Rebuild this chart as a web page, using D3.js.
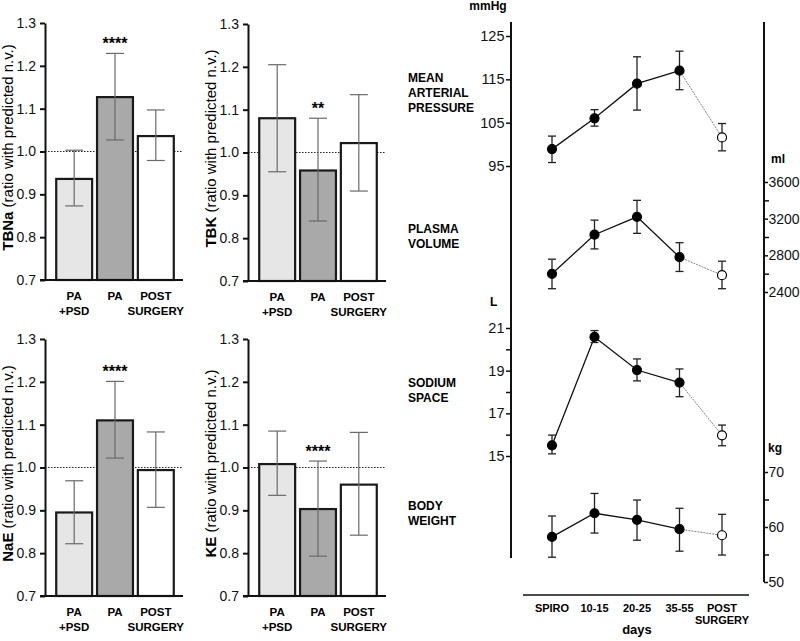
<!DOCTYPE html>
<html>
<head>
<meta charset="utf-8">
<script src="https://cdn.jsdelivr.net/npm/d3@7"></script>
<style>
	body { margin: 0; background: #fff; }
	svg { font-family: "Liberation Sans", Arial, sans-serif; }
	.axis path, .axis line { stroke: #111; }
	.axis text { fill: #111; }
</style>
</head>
<body>
<svg id="chart" width="800" height="641"></svg>
<script>
//Bar panels: ratio with predicted normal value.
const barCats = ['PA+PSD', 'PA', 'POST SURGERY'];
const barLabels = [['PA', '+PSD'], ['PA'], ['POST', 'SURGERY']];
const barTicks = [0.7, 0.8, 0.9, 1.0, 1.1, 1.2, 1.3];
const tbnaMean = [0.936, 1.127, 1.036];
const tbnaLow = [0.873, 1.027, 0.979];
const tbnaHigh = [1.003, 1.229, 1.097];
const tbkMean = [1.080, 0.958, 1.022];
const tbkLow = [0.955, 0.840, 0.910];
const tbkHigh = [1.205, 1.080, 1.135];
const naeMean = [0.895, 1.110, 0.994];
const naeLow = [0.822, 1.022, 0.907];
const naeHigh = [0.969, 1.201, 1.083];
const keMean = [1.008, 0.903, 0.960];
const keLow = [0.935, 0.793, 0.842];
const keHigh = [1.085, 1.015, 1.082];

//Time course panel.
const days = ['SPIRO', '10-15', '20-25', '35-55', 'POST SURGERY'];
const mapMean = [98.9, 106.0, 114.0, 117.0, 101.6];
const mapLow = [95.8, 104.2, 107.9, 112.6, 98.5];
const mapHigh = [101.9, 108.0, 120.2, 121.5, 104.8];
const pvMean = [2598, 3025, 3220, 2780, 2584];
const pvLow = [2436, 2870, 3040, 2624, 2436];
const pvHigh = [2758, 3184, 3400, 2938, 2736];
const naSpMean = [15.50, 20.58, 19.03, 18.44, 15.97];
const naSpLow = [15.10, 20.32, 18.52, 17.78, 15.48];
const naSpHigh = [15.98, 20.88, 19.55, 19.08, 16.45];
const bwMean = [58.2, 62.5, 61.3, 59.6, 58.5];
const bwLow = [54.5, 58.9, 57.6, 55.6, 54.9];
const bwHigh = [62.0, 66.1, 64.9, 63.4, 62.3];

const svg = d3.select('#chart');
const barFills = ['#e6e6e6', '#a9a9a9', '#ffffff'];

//One bar panel.
function renderBars(p) {
	const g = svg.append('g');
	const y = d3.scaleLinear().domain([0.7, 1.3]).range([p.bottom, p.top]);
	const x = d3.scaleBand().domain(barCats)
		.range([p.left + 10, p.left + 130])
		.paddingInner(0.12).paddingOuter(0.03);
	const right = p.left + 138;
	const rows = barCats.map((c, i) => ({c, m: p.mean[i], lo: p.low[i], hi: p.high[i], i}));

	//Reference line at 1.0.
	g.append('line')
		.attr('x1', p.left).attr('x2', right)
		.attr('y1', y(1)).attr('y2', y(1))
		.style('stroke', '#222').style('stroke-width', 1)
		.style('stroke-dasharray', '1.5,1.5');

	g.selectAll('rect.bar').data(rows).enter().append('rect')
		.attr('class', 'bar')
		.attr('x', d => x(d.c))
		.attr('width', x.bandwidth())
		.attr('y', d => y(d.m))
		.attr('height', d => y(0.7) - y(d.m))
		.style('fill', d => barFills[d.i])
		.style('stroke', '#1a1a1a').style('stroke-width', 2.2);

	//Error bars.
	const eb = g.selectAll('g.err').data(rows).enter().append('g')
		.attr('transform', d => `translate(${x(d.c) + x.bandwidth() / 2},0)`)
		.style('stroke', '#6a6a6a').style('stroke-width', 1.2);
	eb.append('line').attr('y1', d => y(d.lo)).attr('y2', d => y(d.hi));
	eb.append('line').attr('x1', -9).attr('x2', 9).attr('y1', d => y(d.lo)).attr('y2', d => y(d.lo));
	eb.append('line').attr('x1', -9).attr('x2', 9).attr('y1', d => y(d.hi)).attr('y2', d => y(d.hi));

	//Significance.
	g.append('text')
		.text(p.stars)
		.attr('x', x(barCats[1]) + x.bandwidth() / 2)
		.attr('y', y(p.high[1]) - 4)
		.attr('text-anchor', 'middle')
		.style('font-size', '16px').style('font-weight', 'bold');

	//Axes.
	g.append('g').attr('class', 'axis')
		.attr('transform', `translate(${p.left},0)`)
		.call(d3.axisLeft(y).tickValues(barTicks).tickFormat(d3.format('.1f')).tickSize(5).tickSizeOuter(0))
		.call(a => a.selectAll('path, line').style('stroke-width', 2))
		.call(a => a.selectAll('text').style('font-size', '14px').attr('dx', '-1px'));
	g.append('line')
		.attr('x1', p.left - 5).attr('x2', right)
		.attr('y1', p.bottom).attr('y2', p.bottom)
		.style('stroke', '#111').style('stroke-width', 2);

	//Category labels.
	const lab = g.selectAll('text.cat').data(barLabels).enter().append('text')
		.attr('class', 'cat')
		.attr('text-anchor', 'middle')
		.style('font-size', '11.5px').style('font-weight', 'bold');
	lab.selectAll('tspan').data((d, i) => d.map(t => ({t, i}))).enter().append('tspan')
		.attr('x', d => x(barCats[d.i]) + x.bandwidth() / 2)
		.attr('y', (d, j) => p.bottom + 20 + j * 15)
		.text(d => d.t);

	//Axis title.
	const t = g.append('text')
		.attr('transform', `translate(${p.left - 32},${(p.top + p.bottom) / 2 - 4}) rotate(-90)`)
		.attr('text-anchor', 'middle')
		.style('font-size', '15px');
	t.append('tspan').text(p.name).style('font-weight', 'bold');
	t.append('tspan').text(' (ratio with predicted n.v.)');
}

renderBars({left: 45, top: 23, bottom: 280, name: 'TBNa', stars: '****', mean: tbnaMean, low: tbnaLow, high: tbnaHigh});
renderBars({left: 248, top: 24, bottom: 281, name: 'TBK', stars: '**', mean: tbkMean, low: tbkLow, high: tbkHigh});
renderBars({left: 45, top: 339, bottom: 596, name: 'NaE', stars: '****', mean: naeMean, low: naeLow, high: naeHigh});
renderBars({left: 248, top: 339, bottom: 596, name: 'KE', stars: '****', mean: keMean, low: keLow, high: keHigh});

//Time course panel.
const xT = d3.scalePoint().domain(days).range([552, 722]);
const leftX = 511, rightX = 764;
const series = [
	{label: ['MEAN', 'ARTERIAL', 'PRESSURE'], labelY: 78, mean: mapMean, low: mapLow, high: mapHigh,
		y: d3.scaleLinear().domain([95, 125]).range([166, 36])},
	{label: ['PLASMA', 'VOLUME'], labelY: 229, mean: pvMean, low: pvLow, high: pvHigh,
		y: d3.scaleLinear().domain([2400, 3600]).range([292, 182])},
	{label: ['SODIUM', 'SPACE'], labelY: 383, mean: naSpMean, low: naSpLow, high: naSpHigh,
		y: d3.scaleLinear().domain([15, 21]).range([456, 328])},
	{label: ['BODY', 'WEIGHT'], labelY: 506, mean: bwMean, low: bwLow, high: bwHigh,
		y: d3.scaleLinear().domain([50, 70]).range([582, 472])}
];

const gT = svg.append('g');

//Axis lines.
gT.append('line').attr('x1', leftX).attr('x2', leftX).attr('y1', 22).attr('y2', 558)
	.style('stroke', '#111').style('stroke-width', 2);
gT.append('line').attr('x1', rightX).attr('x2', rightX).attr('y1', 22).attr('y2', 582)
	.style('stroke', '#111').style('stroke-width', 2);

//Scale ticks.
function ticks(scale, major, minor, side) {
	const mk = () => (side === 'left' ? d3.axisLeft(scale) : d3.axisRight(scale));
	const at = side === 'left' ? leftX : rightX;
	gT.append('g').attr('class', 'axis')
		.attr('transform', `translate(${at},0)`)
		.call(mk().tickValues(major).tickFormat(d3.format('d'))
			.tickSize(side === 'left' ? 5 : 4).tickPadding(side === 'left' ? 1.5 : 0.5))
		.call(a => a.select('.domain').remove())
		.call(a => a.selectAll('line').style('stroke-width', 1.5))
		.call(a => a.selectAll('text').style('font-size', side === 'left' ? '14.5px' : '14px'));
	if (minor.length) {
		gT.append('g').attr('class', 'axis')
			.attr('transform', `translate(${at},0)`)
			.call(mk().tickValues(minor).tickSize(5).tickFormat(''))
			.call(a => a.select('.domain').remove())
			.call(a => a.selectAll('line').style('stroke-width', 1.5));
	}
}
ticks(series[0].y, [95, 105, 115, 125], [], 'left');
ticks(series[1].y, [2400, 2800, 3200, 3600], [2600, 3000, 3400], 'right');
ticks(series[2].y, [15, 17, 19, 21], [16, 18, 20], 'left');
ticks(series[3].y, [50, 60, 70], [55, 65], 'right');

//Unit labels.
const units = [['mmHg', 488, 10, 'middle'], ['ml', 771, 163, 'start'], ['L', 490, 306, 'start'], ['kg', 768, 452, 'start']];
gT.selectAll('text.unit').data(units).enter().append('text')
	.attr('x', d => d[1]).attr('y', d => d[2])
	.attr('text-anchor', d => d[3])
	.style('font-size', '12px').style('font-weight', 'bold')
	.text(d => d[0]);

//Series.
series.forEach(s => {
	const pts = days.map((d, i) => ({d, m: s.mean[i], lo: s.low[i], hi: s.high[i], i}));
	const line = d3.line().x(p => xT(p.d)).y(p => s.y(p.m));
	gT.append('path').datum(pts.slice(0, 4)).attr('d', line)
		.style('fill', 'none').style('stroke', '#111').style('stroke-width', 1.3);
	gT.append('path').datum(pts.slice(3)).attr('d', line)
		.style('fill', 'none').style('stroke', '#777').style('stroke-width', 0.9)
		.style('stroke-dasharray', '2,1');
	const eb = gT.append('g').style('stroke', '#222').style('stroke-width', 1.3);
	eb.selectAll('line.v').data(pts).enter().append('line')
		.attr('x1', p => xT(p.d)).attr('x2', p => xT(p.d))
		.attr('y1', p => s.y(p.lo)).attr('y2', p => s.y(p.hi));
	['lo', 'hi'].forEach(k => {
		eb.selectAll(`line.${k}`).data(pts).enter().append('line')
			.attr('x1', p => xT(p.d) - 4).attr('x2', p => xT(p.d) + 4)
			.attr('y1', p => s.y(p[k])).attr('y2', p => s.y(p[k]));
	});
	gT.selectAll(null).data(pts).enter().append('circle')
		.attr('cx', p => xT(p.d)).attr('cy', p => s.y(p.m))
		.attr('r', 4.5)
		.style('fill', p => p.i === 4 ? '#fff' : '#000')
		.style('stroke', '#000').style('stroke-width', 1.2);
	const lt = gT.append('text')
		.style('font-size', '12px').style('font-weight', 'bold');
	lt.selectAll('tspan').data(s.label).enter().append('tspan')
		.attr('x', 408).attr('y', (d, j) => s.labelY + 4 + j * 15)
		.text(d => d);
});

//Days axis.
gT.append('line').attr('x1', 523).attr('x2', 749).attr('y1', 595).attr('y2', 595)
	.style('stroke', '#111').style('stroke-width', 1.5);
const dayLab = gT.selectAll('text.day').data(days).enter().append('text')
	.attr('text-anchor', 'middle')
	.style('font-size', '11px').style('font-weight', 'bold');
dayLab.selectAll('tspan').data(d => d.split(' ').map(t => ({t, d}))).enter().append('tspan')
	.attr('x', p => xT(p.d)).attr('y', (p, j) => 612 + j * 12)
	.text(p => p.t);
gT.append('text').text('days')
	.attr('x', xT('20-25')).attr('y', 634)
	.attr('text-anchor', 'middle')
	.style('font-size', '13px').style('font-weight', 'bold');
</script>
</body>
</html>
